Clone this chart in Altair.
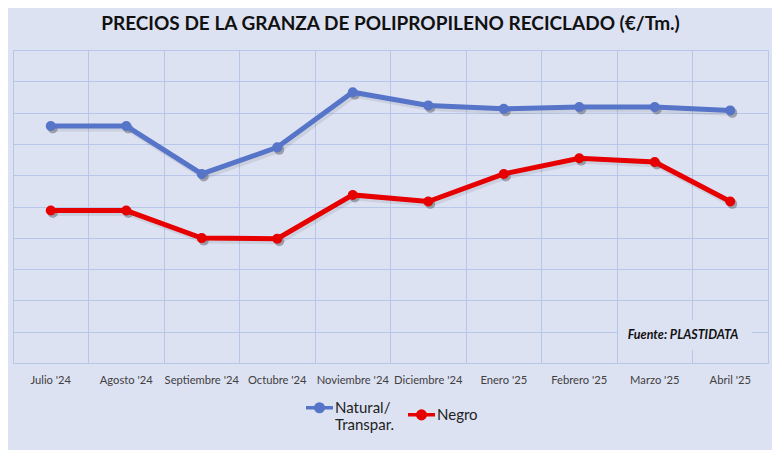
import altair as alt
import pandas as pd

months = ["Julio '24", "Agosto '24", "Septiembre '24", "Octubre '24", "Noviembre '24",
          "Diciembre '24", "Enero '25", "Febrero '25", "Marzo '25", "Abril '25"]
natural = [757, 757, 604, 689, 865, 823, 812, 818, 818, 807]
negro = [487, 487, 399, 397, 537, 516, 604, 654, 642, 516]
series = ["Natural/Transpar.", "Negro"]
colors = ["#5674c8", "#e60000"]

rows = []
for m, a, b in zip(months, natural, negro):
    rows.append({"mes": m, "serie": series[0], "precio": a})
    rows.append({"mes": m, "serie": series[1], "precio": b})
df = pd.DataFrame(rows)

BG = "#dde2f3"
GRID = "#b7c7ea"
FONT = "Lato"

# custom legend symbol: line with a dot
sym = ("M-1,0L1,0M-0.28,0A0.28,0.28,0,1,1,0.28,0"
       "A0.28,0.28,0,1,1,-0.28,0Z")

x = alt.X("mes:N", sort=months, title=None,
          scale=alt.Scale(type="band", paddingInner=0, paddingOuter=0),
          axis=alt.Axis(bandPosition=0, grid=True, gridColor=GRID, gridWidth=1,
                        ticks=False, domain=False, labelPadding=11,
                        labelFontSize=11.2, labelColor="#404040", labelFont=FONT,
                        labelAngle=0))
y = alt.Y("precio:Q", title=None,
          scale=alt.Scale(domain=[0, 1000], nice=False, zero=False),
          axis=alt.Axis(values=list(range(0, 1001, 100)), labels=False, ticks=False,
                        domain=False, grid=True, gridColor=GRID, gridWidth=1))
color = alt.Color("serie:N", sort=series,
                  scale=alt.Scale(domain=series, range=colors),
                  legend=alt.Legend(title=None, orient="none", direction="horizontal",
                                    legendX=291, legendY=342, padding=0,
                                    symbolType=sym, symbolSize=729, symbolStrokeWidth=3.5,
                                    labelOffset=0, columnPadding=6,
                                    labelFont=FONT, labelFontSize=15, labelColor="#222222",
                                    labelExpr="datum.label == 'Natural/Transpar.' ? ['Natural/', 'Transpar.'] : datum.label"))

base = alt.Chart(df)

line_shadow = base.mark_line(strokeWidth=5, color="#333333", opacity=0.1,
                             xOffset=2, yOffset=3).encode(x=x, y=y, detail="serie:N")
pt_shadow = base.mark_point(filled=True, size=100, color="#444444", opacity=0.4,
                            xOffset=2, yOffset=2.5).encode(x=x, y=y)
lines = base.mark_line(strokeWidth=5).encode(x=x, y=y, color=color)
pts = base.mark_point(filled=True, size=100, opacity=1).encode(
    x=x, y=y, color=alt.Color("serie:N", sort=series,
                              scale=alt.Scale(domain=series, range=colors), legend=None))

note_bg = alt.Chart(pd.DataFrame({"k": [0]})).mark_rect(color=BG).encode(
    x=alt.value(605), x2=alt.value(739), y=alt.value(270), y2=alt.value(300))
note = alt.Chart(pd.DataFrame({"t": ["Fuente: PLASTIDATA"]})).mark_text(
    font=FONT, fontSize=12.5, fontWeight="bold", fontStyle="italic", color="#111111",
    align="center", baseline="middle").encode(x=alt.value(670), y=alt.value(285), text="t:N")

chart = alt.layer(line_shadow, pt_shadow, lines, pts, note_bg, note).properties(
    width=755, height=313,
    title=alt.TitleParams("PRECIOS DE LA GRANZA DE POLIPROPILENO RECICLADO (€/Tm.)",
                          font=FONT, fontSize=19, fontWeight="bold", color="#111111",
                          anchor="middle", offset=16),
    autosize=alt.AutoSizeParams(type="none"),
    padding={"left": 5, "top": 42, "right": 4, "bottom": 87},
    background=BG,
).configure_view(stroke=GRID, strokeWidth=1)

chart.save("out.html", embed_options={"renderer": "svg", "actions": False})
